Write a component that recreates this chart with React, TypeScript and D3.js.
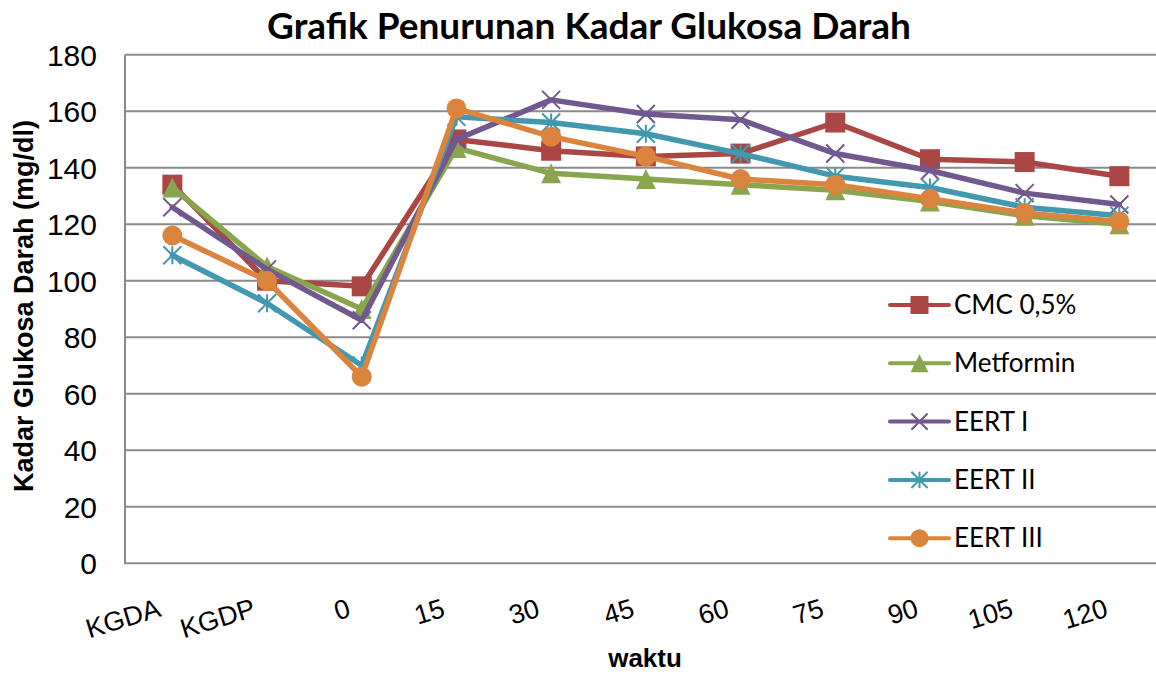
import React from "react";
import * as d3 from "d3";

const categories = ["KGDA", "KGDP", "0", "15", "30", "45", "60", "75", "90", "105", "120"];
const yTicks = [0, 20, 40, 60, 80, 100, 120, 140, 160, 180];

const seriesNames = ["CMC 0,5%", "Metformin", "EERT I", "EERT II", "EERT III"];
const cmcValues = [134, 100, 98, 150, 146, 144, 145, 156, 143, 142, 137];
const metforminValues = [133, 105, 90, 147, 138, 136, 134, 132, 128, 123, 120];
const eert1Values = [126, 104, 86, 150, 164, 159, 157, 145, 139, 131, 127];
const eert2Values = [109, 92, 70, 158, 156, 152, 145, 137, 133, 126, 123];
const eert3Values = [116, 100, 66, 161, 151, 144, 136, 134, 129, 124, 121];

const seriesColors = ["#AA4643", "#89A54E", "#71588F", "#4198AF", "#DB843D"];
const seriesMarkers = ["square", "triangle", "x", "star", "circle"];

const W = 1156;
const H = 674;
const M = { left: 125, top: 54.7, bottom: 563.2, right: 1166.7 };

function Marker({ kind, color, x, y, s }: { kind: string; color: string; x: number; y: number; s: number }) {
  const h = s / 2;
  if (kind === "square") {
    return <rect x={x - h} y={y - h} width={s} height={s} fill={color} />;
  }
  if (kind === "triangle") {
    return <path d={`M${x},${y - h}L${x + h},${y + h}L${x - h},${y + h}Z`} fill={color} />;
  }
  if (kind === "circle") {
    return <circle cx={x} cy={y} r={h} fill={color} />;
  }
  const k = h * 0.9;
  let d = `M${x - k},${y - k}L${x + k},${y + k}M${x + k},${y - k}L${x - k},${y + k}`;
  if (kind === "star") d += `M${x},${y - k}L${x},${y + k}`;
  return <path d={d} stroke={color} strokeWidth={2} fill="none" />;
}

export default function App() {
  const allValues = [cmcValues, metforminValues, eert1Values, eert2Values, eert3Values];
  const x = d3.scalePoint<string>().domain(categories).range([M.left, M.right]).padding(0.5);
  const y = d3.scaleLinear().domain([0, 180]).range([M.bottom, M.top]);
  const line = d3
    .line<number>()
    .x((_, i) => x(categories[i]) as number)
    .y((d) => y(d));

  const legendX0 = 890;
  const legendX1 = 949;
  const legendY0 = 305;
  const legendStep = 58.3;

  return (
    <svg width={W} height={H} style={{ position: "absolute", left: 0, top: 0, background: "#fff" }}>
      <rect x={0} y={0} width={W} height={H} fill="#fff" />
      {/* gridlines */}
      {yTicks.map((t) => (
        <line key={t} x1={M.left} x2={W} y1={y(t)} y2={y(t)} stroke="#8a8a8a" strokeWidth={2} />
      ))}
      <line x1={M.left} x2={M.left} y1={M.top} y2={M.bottom + 1} stroke="#8a8a8a" strokeWidth={2} />

      {/* y tick labels */}
      {yTicks.map((t) => (
        <text
          key={t}
          x={97}
          y={y(t)}
          dy="0.36em"
          textAnchor="end"
          fontFamily="'Liberation Sans', Arial, sans-serif"
          fontSize={30}
          fill="#000"
        >
          {t}
        </text>
      ))}

      {/* x tick labels */}
      {categories.map((c) => {
        const ax = (x(c) as number) - 10;
        const ay = 616;
        return (
          <text
            key={c}
            x={ax}
            y={ay}
            textAnchor="end"
            transform={`rotate(-17, ${ax}, ${ay})`}
            fontFamily="'Liberation Sans', Arial, sans-serif"
            fontSize={27}
            fill="#000"
          >
            {c}
          </text>
        );
      })}

      {/* series */}
      {allValues.map((vals, si) => (
        <g key={si}>
          <path
            d={line(vals) || ""}
            fill="none"
            stroke={seriesColors[si]}
            strokeWidth={5.5}
            strokeLinejoin="round"
            strokeLinecap="round"
          />
          {vals.map((v, i) => (
            <Marker key={i} kind={seriesMarkers[si]} color={seriesColors[si]} x={x(categories[i]) as number} y={y(v)} s={20} />
          ))}
        </g>
      ))}

      {/* legend */}
      {seriesNames.map((n, si) => {
        const ly = legendY0 + si * legendStep;
        return (
          <g key={n}>
            <line x1={legendX0} x2={legendX1} y1={ly} y2={ly} stroke={seriesColors[si]} strokeWidth={4} strokeLinecap="round" />
            <Marker kind={seriesMarkers[si]} color={seriesColors[si]} x={(legendX0 + legendX1) / 2} y={ly} s={18} />
            <text x={954} y={ly + 9} fontFamily="Lato, 'Open Sans', sans-serif" fontSize={26} fill="#000">
              {n}
            </text>
          </g>
        );
      })}

      {/* titles */}
      <text x={589} y={39} textAnchor="middle" fontFamily="Lato, 'Open Sans', sans-serif" fontWeight="bold" fontSize={37} fill="#000">
        Grafik Penurunan Kadar Glukosa Darah
      </text>
      <text
        x={0}
        y={0}
        transform={`translate(33, 306) rotate(-90)`}
        textAnchor="middle"
        fontFamily="'Liberation Sans', Arial, sans-serif"
        fontWeight="bold"
        fontSize={27}
        fill="#000"
      >
        Kadar Glukosa Darah (mg/dl)
      </text>
      <text x={645} y={667} textAnchor="middle" fontFamily="'Liberation Sans', Arial, sans-serif" fontWeight="bold" fontSize={26} fill="#000">
        waktu
      </text>
    </svg>
  );
}
